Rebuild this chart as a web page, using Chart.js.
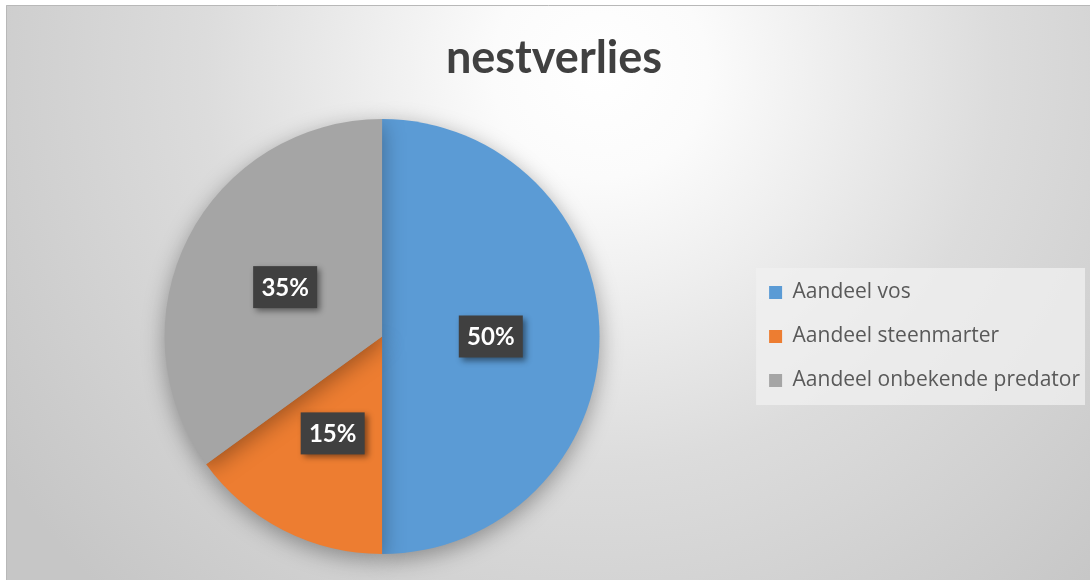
<!DOCTYPE html>
<html>
<head>
<meta charset="utf-8">
<style>
  html, body { margin: 0; padding: 0; background: #ffffff; }
  #wrap { width: 1090px; height: 580px; position: relative; }
  canvas { display: block; }
</style>
<script src="https://cdn.jsdelivr.net/npm/chart.js@4/dist/chart.umd.min.js"></script>
</head>
<body>
<div id="wrap"><canvas id="c" width="1090" height="580"></canvas></div>
<script>
const chartTitle = 'nestverlies';
const categories = ['Aandeel vos', 'Aandeel steenmarter', 'Aandeel onbekende predator'];
const shares = [50, 15, 35];
const sliceColors = ['#5B9BD5', '#ED7D31', '#A5A5A5'];

const FONT = 'Lato, "Open Sans", "DejaVu Sans", sans-serif';
const LEGEND_FONT = '"Open Sans", Lato, "DejaVu Sans", sans-serif';

const backgroundPlugin = {
  id: 'bg',
  beforeDraw(chart) {
    const ctx = chart.ctx;
    const w = chart.width, h = chart.height;
    ctx.save();
    ctx.fillStyle = '#ffffff';
    ctx.fillRect(0, 0, w, h);
    const g = ctx.createRadialGradient(600, 70, 0, 600, 70, 720);
    g.addColorStop(0, '#ffffff');
    g.addColorStop(0.15, '#fbfbfb');
    g.addColorStop(0.55, '#dcdcdc');
    g.addColorStop(1, '#c6c6c6');
    ctx.fillStyle = g;
    ctx.fillRect(6, 5, w - 6, h - 5);
    ctx.strokeStyle = '#b8b8b8';
    ctx.lineWidth = 1;
    ctx.beginPath();
    ctx.moveTo(6.5, h);
    ctx.lineTo(6.5, 5.5);
    ctx.lineTo(w, 5.5);
    ctx.stroke();
    const lg = chart.legend;
    if (lg && lg.legendHitBoxes && lg.legendHitBoxes.length) {
      const boxes = lg.legendHitBoxes;
      const x0 = boxes[0].left - 13;
      const y0 = boxes[0].top - 14;
      const last = boxes[boxes.length - 1];
      const y1 = last.top + last.height + 14;
      ctx.fillStyle = 'rgba(240,240,240,0.75)';
      ctx.fillRect(x0, y0, 1085 - x0, y1 - y0);
    }
    ctx.restore();
  }
};

const shadowPlugin = {
  id: 'pieShadow',
  beforeDatasetDraw(chart) {
    const ctx = chart.ctx;
    ctx.save();
    ctx.shadowColor = 'rgba(0,0,0,0.35)';
    ctx.shadowBlur = 22;
    ctx.shadowOffsetX = 0;
    ctx.shadowOffsetY = 6;
  },
  afterDatasetDraw(chart) {
    chart.ctx.restore();
  }
};

const labelPlugin = {
  id: 'pctLabels',
  afterDatasetsDraw(chart) {
    const ctx = chart.ctx;
    const meta = chart.getDatasetMeta(0);
    const data = chart.data.datasets[0].data;
    const total = data.reduce((a, b) => a + b, 0);
    meta.data.forEach((arc, i) => {
      const p = arc.tooltipPosition();
      const txt = Math.round(data[i] / total * 100) + '%';
      const bw = 64, bh = 42;
      ctx.save();
      ctx.shadowColor = 'rgba(0,0,0,0.45)';
      ctx.shadowBlur = 6;
      ctx.shadowOffsetX = 3;
      ctx.shadowOffsetY = 3;
      ctx.fillStyle = '#404040';
      ctx.fillRect(p.x - bw / 2, p.y - bh / 2, bw, bh);
      ctx.restore();
      ctx.save();
      ctx.fillStyle = '#ffffff';
      ctx.font = 'bold 24px ' + FONT;
      ctx.textAlign = 'center';
      ctx.textBaseline = 'middle';
      ctx.fillText(txt, p.x, p.y + 1);
      ctx.restore();
    });
  }
};

new Chart(document.getElementById('c'), {
  type: 'pie',
  data: {
    labels: categories,
    datasets: [{
      data: shares,
      backgroundColor: sliceColors,
      borderWidth: 0
    }]
  },
  options: {
    responsive: false,
    devicePixelRatio: 1,
    animation: false,
    layout: { padding: { top: 6, bottom: 26, left: 18, right: 0 } },
    plugins: {
      title: {
        display: true,
        text: chartTitle,
        color: '#404040',
        font: { family: FONT, size: 45, weight: 'bold' },
        padding: { top: 25, bottom: 34 }
      },
      legend: {
        position: 'right',
        align: 'center',
        fullSize: false,
        labels: {
          color: '#595959',
          font: { family: LEGEND_FONT, size: 21 },
          boxWidth: 13,
          boxHeight: 13,
          padding: 23
        }
      },
      tooltip: { enabled: false }
    }
  },
  plugins: [backgroundPlugin, shadowPlugin, labelPlugin]
});
</script>
</body>
</html>
